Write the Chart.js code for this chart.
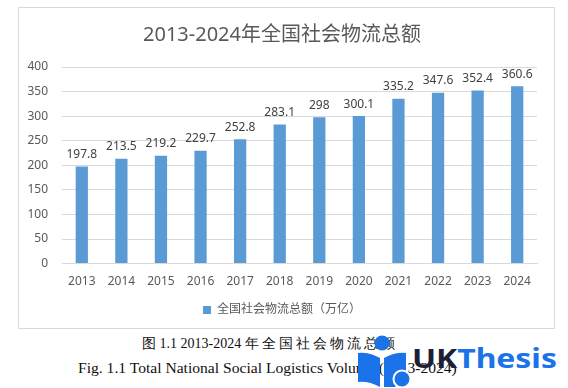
<!DOCTYPE html>
<html>
<head>
<meta charset="utf-8">
<script src="https://cdn.jsdelivr.net/npm/chart.js@4.4.1/dist/chart.umd.min.js"></script>
<style>
  html,body{margin:0;padding:0;background:#fff;width:568px;height:388px;overflow:hidden;position:relative;}
  #box{position:absolute;left:18px;top:7px;width:537px;height:322px;border:1px solid #d9d9d9;box-sizing:border-box;}
  #box canvas{display:block;}
  .cap{position:absolute;font-family:"Liberation Serif","DejaVu Serif",serif;color:#111;white-space:nowrap;}
  #cap1{left:142px;top:335px;font-size:14px;}
  #cap1 .cjk{letter-spacing:3px;}
  #cap2{left:78px;top:359px;font-size:15.6px;}
  #logo{position:absolute;left:357px;top:334px;width:200px;height:54px;}
  #logo .txt{position:absolute;left:55px;top:5px;font-family:"Noto Sans",sans-serif;font-weight:700;font-size:27px;
    transform:scaleX(1.18);transform-origin:left top;}
</style>
</head>
<body>
<div id="box"><canvas id="c" width="535" height="320"></canvas></div>
<div class="cap" id="cap1">图 1.1 2013-2024 <span class="cjk">年全国社会物流总额</span></div>
<div class="cap" id="cap2">Fig. 1.1 Total National Social Logistics Volume (2013-2024)</div>
<div id="logo">
  <svg width="56" height="54" viewBox="0 0 56 54" style="position:absolute;left:0;top:0">
    <circle cx="25" cy="9" r="7.5" fill="#1a73e8"/>
    <path d="M1 19 Q12 18 23 24 L23 53 Q12 47 1 48 Z" fill="#1a73e8"/>
    <path d="M27 24 Q38 18 49 19 L49 40 L38 53 L27 53 Z" fill="#1a73e8"/>
    <circle cx="45" cy="45" r="8.5" fill="#1a73e8" stroke="#fff" stroke-width="2"/>
  </svg>
  <div class="txt"><span style="color:#1c2033">UK</span><span style="color:#1a73e8">Thesis</span></div>
</div>
<script>
const years  = ['2013','2014','2015','2016','2017','2018','2019','2020','2021','2022','2023','2024'];
const totals = [197.8,213.5,219.2,229.7,252.8,283.1,298,300.1,335.2,347.6,352.4,360.6];
const yTicks = [0,50,100,150,200,250,300,350,400];

const FONT = "'Noto Sans','Noto Sans CJK SC',sans-serif";

// 柱顶数值标签
const valueLabels = {
  id:'valueLabels',
  afterDatasetsDraw(chart){
    const ctx=chart.ctx;
    const meta=chart.getDatasetMeta(0);
    ctx.save();
    ctx.font=`12px ${FONT}`;
    ctx.fillStyle='#404040';
    ctx.textAlign='center'; ctx.textBaseline='bottom';
    meta.data.forEach((bar,i)=>ctx.fillText(String(totals[i]),bar.x,bar.y-6));
    ctx.restore();
  }
};

new Chart(document.getElementById('c'),{
  type:'bar',
  data:{labels:years,datasets:[{
    label:'全国社会物流总额（万亿）',data:totals,
    backgroundColor:'#5b9bd5',borderWidth:0,
    barPercentage:0.62,categoryPercentage:0.5
  }]},
  options:{
    responsive:false,animation:false,
    layout:{padding:{left:8,right:17,top:15,bottom:2}},
    plugins:{
      title:{display:true,text:'2013-2024年全国社会物流总额',color:'#595959',
        font:{family:FONT,size:20,weight:'normal'},padding:{top:0,bottom:20}},
      legend:{position:'bottom',labels:{color:'#595959',font:{family:FONT,size:12},
        boxWidth:8,boxHeight:8,padding:4}},
      tooltip:{enabled:false}
    },
    scales:{
      x:{grid:{display:false,drawTicks:false},border:{color:'#d9d9d9',width:1},
        ticks:{color:'#595959',font:{family:FONT,size:12},padding:11}},
      y:{min:0,max:400,
        afterBuildTicks:s=>{s.ticks=yTicks.map(v=>({value:v}));},
        afterFit:s=>{s.width=35;},
        grid:{color:'#d9d9d9',drawTicks:false},border:{display:false},
        ticks:{color:'#595959',font:{family:FONT,size:12},padding:14}}
    }
  },
  plugins:[valueLabels]
});
</script>
</body>
</html>
